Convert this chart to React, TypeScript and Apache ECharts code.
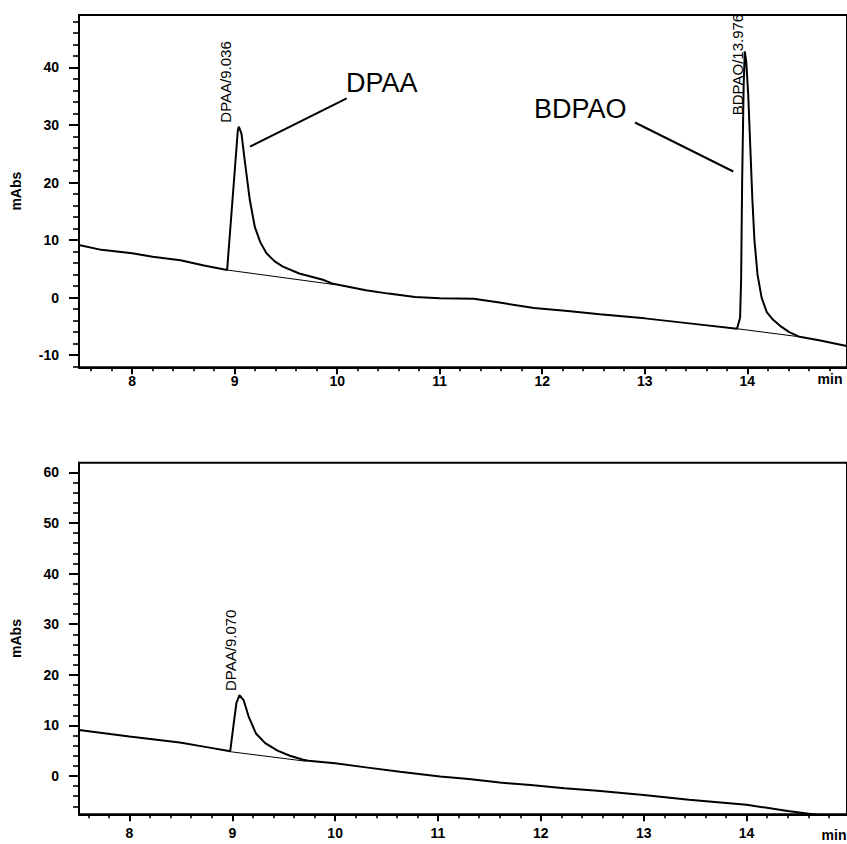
import React, { useEffect, useRef } from 'react';
import * as echarts from 'echarts';

// ---------- data ----------
const topTime = [7.48, 7.7, 8.0, 8.2, 8.47, 8.7, 8.926, 9.0, 9.03, 9.04, 9.066, 9.1, 9.147, 9.196, 9.25, 9.31, 9.39, 9.47, 9.63, 9.86, 9.96,
  10.28, 10.5, 10.76, 11.0, 11.33, 11.6, 11.92, 12.25, 12.56, 13.0, 13.5, 13.9, 13.93, 13.94, 13.95, 13.965, 13.976, 13.99, 14.01, 14.03,
  14.05, 14.07, 14.1, 14.14, 14.19, 14.25, 14.32, 14.41, 14.51, 14.7, 14.97];
const topSignal = [9.15, 8.3, 7.7, 7.1, 6.5, 5.6, 4.8, 22.0, 29.0, 29.7, 28.5, 23.5, 17.0, 12.3, 9.6, 7.7, 6.3, 5.4, 4.2, 3.1, 2.4,
  1.3, 0.7, 0.1, -0.1, -0.2, -0.9, -1.8, -2.3, -2.9, -3.6, -4.6, -5.4, -3.5, 3.0, 20.0, 37.0, 42.8, 41.0, 35.0, 26.0,
  17.0, 10.0, 4.0, 0.0, -2.5, -3.8, -4.9, -6.0, -6.8, -7.4, -8.4];
const topBaseDPAA = [[8.926, 4.8], [9.96, 2.3]];
const topBaseBDPAO = [[13.9, -5.4], [14.51, -6.8]];

const botTime = [7.51, 8.0, 8.49, 8.75, 8.98, 9.01, 9.04, 9.07, 9.11, 9.16, 9.23, 9.32, 9.44, 9.56, 9.69, 9.74, 10.0, 10.3, 10.63,
  11.02, 11.3, 11.6, 11.9, 12.23, 12.55, 13.0, 13.44, 14.0, 14.4, 14.66, 14.85];
const botSignal = [9.1, 7.8, 6.6, 5.7, 4.9, 9.7, 14.4, 16.0, 15.0, 11.7, 8.4, 6.5, 5.0, 4.0, 3.2, 3.0, 2.5, 1.7, 0.85,
  -0.1, -0.6, -1.3, -1.8, -2.4, -2.9, -3.75, -4.7, -5.7, -6.9, -7.6, -8.3];
const botBaseDPAA = [[8.98, 4.8], [9.72, 2.9]];

const xMajorTicks = [8, 9, 10, 11, 12, 13, 14];
const topYTicks = [-10, 0, 10, 20, 30, 40];
const botYTicks = [0, 10, 20, 30, 40, 50, 60];

const peakLabelsTop = [
  { text: 'DPAA/9.036', t: 9.036, v: 29.7 },
  { text: 'BDPAO/13.976', t: 13.976, v: 42.8 },
];
const peakLabelsBot = [{ text: 'DPAA/9.070', t: 9.07, v: 16.0 }];

// ---------- helpers ----------
const FONT = '"Liberation Sans", Arial, Helvetica, sans-serif';
const zip = (a: number[], b: number[]) => a.map((x, i) => [x, b[i]]);
const minorRange = (lo: number, hi: number, step: number) => {
  const out: number[] = [];
  const start = Math.ceil(lo / step - 1e-9);
  for (let k = start; k * step <= hi + 1e-9; k++) out.push(Math.round(k * step * 1000) / 1000);
  return out;
};

const TOP = { xMin: 7.481, xMax: 14.973, yMin: -12.1, yMax: 49.1 };
const BOT = { xMin: 7.51, xMax: 14.976, yMin: -7.57, yMax: 61.9 };

function xAxes(gridIndex: number, r: any, labelMargin: number) {
  return [
    {
      type: 'value', gridIndex, min: r.xMin, max: r.xMax, position: 'bottom',
      axisLine: { show: true, onZero: false, lineStyle: { color: '#000', width: 2 } },
      axisTick: { show: true, customValues: xMajorTicks, length: 7, lineStyle: { color: '#000', width: 2 } },
      axisLabel: { show: true, customValues: xMajorTicks, margin: labelMargin, color: '#000', fontFamily: FONT, fontWeight: 'bold', fontSize: 14 },
      splitLine: { show: false },
    },
    {
      type: 'value', gridIndex, min: r.xMin, max: r.xMax, position: 'bottom',
      axisLine: { show: false, onZero: false },
      axisTick: { show: true, customValues: minorRange(r.xMin, r.xMax, 0.2), length: 4, lineStyle: { color: '#000', width: 1.6 } },
      axisLabel: { show: false },
      splitLine: { show: false },
    },
  ];
}

function yAxes(gridIndex: number, r: any, ticks: number[]) {
  return [
    {
      type: 'value', gridIndex, min: r.yMin, max: r.yMax, position: 'left',
      name: 'mAbs', nameLocation: 'middle', nameGap: 56, nameRotate: 90,
      nameTextStyle: { color: '#000', fontFamily: FONT, fontWeight: 'bold', fontSize: 14 },
      axisLine: { show: true, onZero: false, lineStyle: { color: '#000', width: 2 } },
      axisTick: { show: true, customValues: ticks, length: 10, lineStyle: { color: '#000', width: 2 } },
      axisLabel: { show: true, customValues: ticks, margin: 20, color: '#000', fontFamily: FONT, fontWeight: 'bold', fontSize: 14 },
      splitLine: { show: false },
    },
    {
      type: 'value', gridIndex, min: r.yMin, max: r.yMax, position: 'left',
      axisLine: { show: false, onZero: false },
      axisTick: { show: true, customValues: minorRange(r.yMin, r.yMax, 2), length: 6, lineStyle: { color: '#000', width: 1.6 } },
      axisLabel: { show: false },
      splitLine: { show: false },
    },
  ];
}

const lineSeries = (data: number[][], xi: number, yi: number, width: number) => ({
  type: 'line', data, xAxisIndex: xi, yAxisIndex: yi, showSymbol: false, symbol: 'none', clip: true,
  lineStyle: { color: '#000', width }, silent: true, z: 3,
});

export default function App() {
  const ref = useRef<HTMLDivElement>(null);
  useEffect(() => {
    const chart = echarts.init(ref.current as HTMLDivElement, null, { renderer: 'svg' });
    const option: any = {
      animation: false,
      backgroundColor: '#fff',
      grid: [
        { left: 79, top: 15, width: 770, height: 352.3, show: true, borderColor: '#000', borderWidth: 2, backgroundColor: 'transparent' },
        { left: 79, top: 462.7, width: 770, height: 351.6, show: true, borderColor: '#000', borderWidth: 2, backgroundColor: 'transparent' },
      ],
      xAxis: [...xAxes(0, TOP, 7), ...xAxes(1, BOT, 12)],
      yAxis: [...yAxes(0, TOP, topYTicks), ...yAxes(1, BOT, botYTicks)],
      series: [
        lineSeries(zip(topTime, topSignal), 0, 0, 2),
        lineSeries(topBaseDPAA, 0, 0, 1),
        lineSeries(topBaseBDPAO, 0, 0, 1),
        lineSeries(zip(botTime, botSignal), 2, 2, 2),
        lineSeries(botBaseDPAA, 2, 2, 1),
      ],
    };
    chart.setOption(option);

    const rotText = (x: number, y: number, text: string) => ({
      type: 'text', x, y, rotation: Math.PI / 2, z: 10,
      style: { text, fill: '#000', font: `15px ${FONT}`, align: 'left', verticalAlign: 'bottom' },
    });
    const g: any[] = [];
    const offsTop = [[-5, -4], [0, 64]];
    peakLabelsTop.forEach((p, i) => {
      const px = chart.convertToPixel({ seriesIndex: 0 }, [p.t, p.v]) as number[];
      g.push(rotText(px[0] + offsTop[i][0], px[1] + offsTop[i][1], p.text));
    });
    peakLabelsBot.forEach((p) => {
      const px = chart.convertToPixel({ seriesIndex: 3 }, [p.t, p.v]) as number[];
      g.push(rotText(px[0] - 1, px[1] - 4, p.text));
    });
    // annotations
    g.push({ type: 'text', x: 346, y: 69, z: 10, style: { text: 'DPAA', fill: '#000', font: `27px ${FONT}`, align: 'left', verticalAlign: 'top' } });
    g.push({ type: 'line', z: 10, shape: { x1: 250, y1: 146.7, x2: 346.7, y2: 98.3 }, style: { stroke: '#000', lineWidth: 2 } });
    g.push({ type: 'text', x: 534, y: 95, z: 10, style: { text: 'BDPAO', fill: '#000', font: `27px ${FONT}`, align: 'left', verticalAlign: 'top' } });
    g.push({ type: 'line', z: 10, shape: { x1: 635, y1: 122.5, x2: 733.3, y2: 171.5 }, style: { stroke: '#000', lineWidth: 2 } });
    g.push({ type: 'text', x: 830, y: 379, z: 10, style: { text: 'min', fill: '#000', font: `bold 14px ${FONT}`, align: 'center', verticalAlign: 'middle' } });
    g.push({ type: 'text', x: 834, y: 835, z: 10, style: { text: 'min', fill: '#000', font: `bold 14px ${FONT}`, align: 'center', verticalAlign: 'middle' } });
    chart.setOption({ graphic: g });

    return () => chart.dispose();
  }, []);
  return <div ref={ref} style={{ position: 'fixed', left: 0, top: 0, width: 847, height: 844, background: '#fff' }} />;
}
